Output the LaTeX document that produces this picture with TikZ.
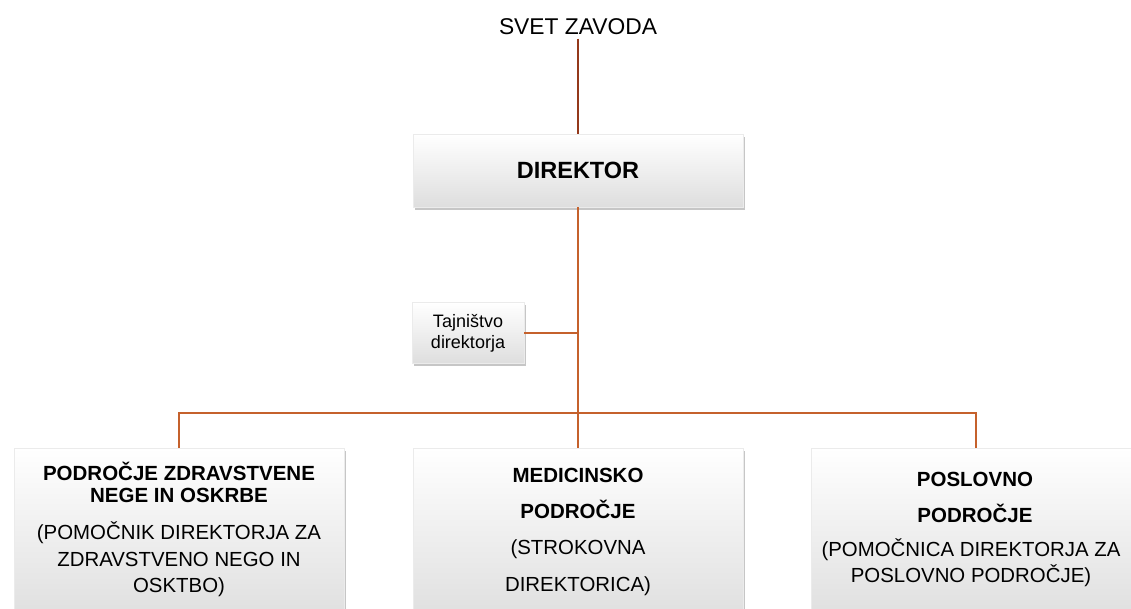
\documentclass[tikz,border=0pt]{standalone}
\usepackage{fontspec}
\setmainfont{Liberation Sans}
\usetikzlibrary{shadows,positioning}
\definecolor{rja}{HTML}{C5612C}
\definecolor{temnorja}{HTML}{94391B}

\begin{document}
\begin{tikzpicture}
	[x=1pt,y=1pt,
	okvir/.style={rectangle,draw=black!8,top color=white,middle color=white,bottom color=black!13,
		drop shadow={shadow xshift=2pt,shadow yshift=-3pt,opacity=0.45,fill=black!50},
		inner sep=0pt},
	velik/.style={okvir,minimum width=330pt,minimum height=176pt,anchor=north},
	povezava/.style={rja,line width=1.6pt},
	krepko/.style={anchor=base,inner sep=0pt,font=\fontsize{20.5}{24}\selectfont\bfseries},
	navadno/.style={anchor=base,inner sep=0pt,font=\fontsize{20.4}{24}\selectfont}]
\useasboundingbox (0,0) rectangle (1131,609);
%vrh
\node (svet) at (578,574) [anchor=base,font=\fontsize{22.8}{26}\selectfont] {SVET ZAVODA};
\node (direktor) at (578,438.5) [okvir,minimum width=330pt,minimum height=73pt,
	font=\fontsize{23.5}{26}\selectfont\bfseries] {DIREKTOR};
\node (tajnistvo) at (468,276) [okvir,minimum width=112pt,minimum height=61pt,align=center,
	font=\fontsize{18}{21}\selectfont] {Tajništvo\\direktorja};
\coordinate (razcep) at (578,196);
\coordinate (tajnik) at (578,276);
%spodnji okvirji
\node (zdravstvo) at (179,161) [velik] {};
\node (medicina) at (578,161) [velik] {};
\node (posel) at (976,161) [velik] {};
%povezave
\draw[temnorja,line width=1.6pt] (svet.south) -- (direktor.north);
\draw[povezava] (direktor.south) -- (razcep);
\draw[povezava] (tajnistvo.east) -- (tajnik);
\draw[povezava] (razcep) -| (zdravstvo.north);
\draw[povezava] (razcep) -| (posel.north);
\draw[povezava] (razcep) -- (medicina.north);
%prvi okvir
\node (z1) at (179,128) [krepko] {PODROČJE ZDRAVSTVENE};
\node (z2) at (179,106) [krepko] {NEGE IN OSKRBE};
\node (z3) at (179,69) [navadno] {(POMOČNIK DIREKTORJA ZA};
\node (z4) at (179,42) [navadno] {ZDRAVSTVENO NEGO IN};
\node (z5) at (179,16) [navadno] {OSKTBO)};
%drugi okvir
\node (m1) at (578,126) [krepko] {MEDICINSKO};
\node (m2) at (578,90) [krepko] {PODROČJE};
\node (m3) at (578,54) [navadno] {(STROKOVNA};
\node (m4) at (578,17) [navadno] {DIREKTORICA)};
%tretji okvir
\node (p1) at (975,122) [krepko] {POSLOVNO};
\node (p2) at (975,86) [krepko] {PODROČJE};
\node (p3) at (971,52) [navadno] {(POMOČNICA DIREKTORJA ZA};
\node (p4) at (971,26) [navadno] {POSLOVNO PODROČJE)};
\end{tikzpicture}
\end{document}
